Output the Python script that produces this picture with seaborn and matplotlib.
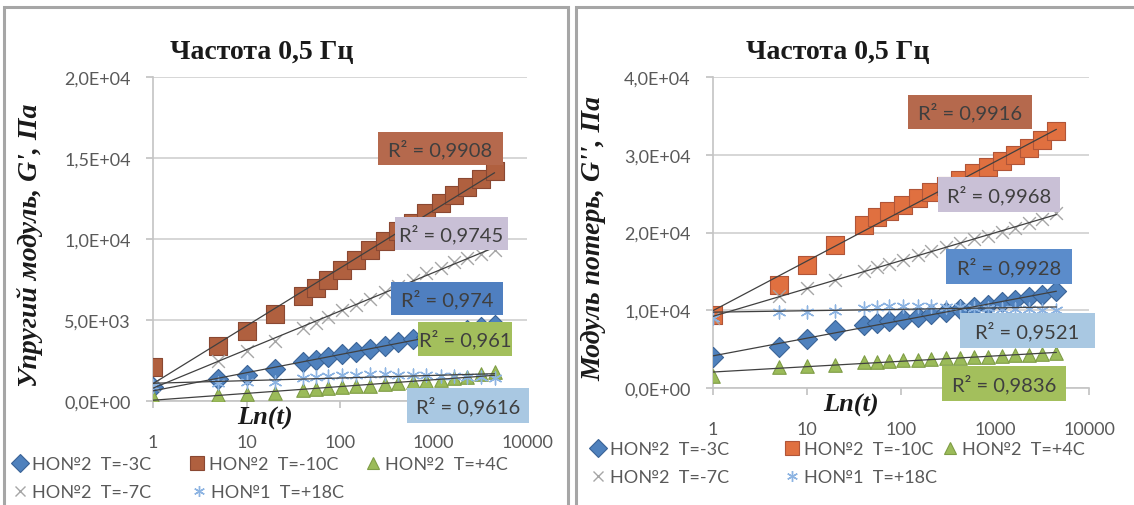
import numpy as np
import pandas as pd
import matplotlib
matplotlib.use('Agg')
import matplotlib.pyplot as plt
import seaborn as sns
from matplotlib.lines import Line2D
from matplotlib.patches import Rectangle
from matplotlib.ticker import FuncFormatter, FixedLocator, NullLocator

# ---------------- data ----------------
t = [1, 5, 10, 20, 40, 55, 75, 105, 150, 210, 300, 420, 600, 840, 1200, 1650, 2300, 3200, 4500]

# left panel: G', Pa
g1_m3 = [860, 1360, 1600, 1980, 2400, 2530, 2700, 2900, 3000, 3200, 3400, 3640, 3800, 3950, 4100, 4250, 4400, 4550, 4700]
g1_m10 = [2100, 3400, 4300, 5400, 6500, 7000, 7500, 8100, 8700, 9300, 9900, 10500, 11000, 11600, 12200, 12700, 13200, 13700, 14200]
g1_p4 = [250, 400, 450, 500, 700, 750, 800, 850, 900, 950, 1050, 1100, 1150, 1250, 1300, 1400, 1500, 1650, 1800]
g1_m7 = [1000, 2500, 3100, 3700, 4500, 4800, 5200, 5600, 5900, 6300, 6700, 7100, 7500, 7900, 8200, 8600, 8800, 9100, 9300]
g1_p18 = [900, 1100, 1150, 1150, 1450, 1500, 1550, 1600, 1600, 1650, 1650, 1600, 1600, 1600, 1550, 1550, 1500, 1500, 1450]

# right panel: G'', Pa
g2_m3 = [3960, 5250, 6320, 7400, 8040, 8390, 8560, 8820, 9120, 9550, 9770, 10200, 10400, 10700, 11060, 11260, 11700, 12000, 12430]
g2_m10 = [9330, 13200, 15780, 18360, 20940, 22000, 22800, 23600, 24400, 25200, 26000, 26800, 27600, 28400, 29200, 30000, 30900, 31900, 33000]
g2_p4 = [1590, 2670, 2800, 2970, 3310, 3400, 3480, 3560, 3640, 3720, 3800, 3880, 3960, 4040, 4120, 4200, 4300, 4390, 4450]
g2_m7 = [9000, 11800, 12900, 13900, 15000, 15500, 16000, 16500, 17100, 17600, 18100, 18600, 19100, 19600, 20100, 20600, 21200, 21800, 22500]
g2_p18 = [9000, 9800, 9800, 9900, 10300, 10400, 10500, 10500, 10500, 10500, 10400, 10400, 10300, 10300, 10200, 10200, 10100, 10000, 10000]

series_labels = ['НО№2  T=-3C', 'НО№2  T=-10C', 'НО№2  T=+4C', 'НО№2  T=-7C', 'НО№1  T=+18C']
r2_left = ['R² = 0,974', 'R² = 0,9908', 'R² = 0,961', 'R² = 0,9745', 'R² = 0,9616']
r2_right = ['R² = 0,9928', 'R² = 0,9916', 'R² = 0,9836', 'R² = 0,9968', 'R² = 0,9521']
xticks = [1, 10, 100, 1000, 10000]
yticks_left = [0, 5000, 10000, 15000, 20000]
yticks_right = [0, 10000, 20000, 30000, 40000]
title = 'Частота 0,5 Гц'
ylabel_left = "Упругий модуль, G', Па"
ylabel_right = "Модуль потерь, G'', Па"
xlabel = 'Ln(t)'

# ---------------- style ----------------
sns.set_theme(style='white')
plt.rcParams['font.family'] = ['Lato', 'DejaVu Sans']
SERIF = ['Liberation Serif', 'DejaVu Serif']

W, H = 1134, 506
fig = plt.figure(figsize=(W / 100, H / 100), dpi=100)


def fx(px):
    return px / W


def fy(py):
    return 1 - py / H


def sci(v, pos):
    if v == 0:
        return '0,0E+00'
    e = int(np.floor(np.log10(abs(v)) + 1e-9))
    m = v / 10 ** e
    return f"{m:.1f}".replace('.', ',') + f"E+{e:02d}"


GRAY_TXT = '#595959'
AX_GRAY = '#C4C4C4'

styles_left = [
    dict(marker='D', color='#4F81BD', ec='#3A6396', s=105, lw=0.8),
    dict(marker='s', color='#B0603F', ec='#8A4832', s=160, lw=0.8),
    dict(marker='^', color='#9BBB59', ec='#7F9D46', s=95, lw=0.8),
    dict(marker='x', color='#A6A6A6', ec='#A6A6A6', s=85, lw=1.0),
    dict(marker=(6, 2, 0), color='#8DB4E2', ec='#8DB4E2', s=85, lw=1.0),
]
styles_right = [dict(d) for d in styles_left]
styles_right[1] = dict(marker='s', color='#E07040', ec='#B05538', s=150, lw=0.8)

# boxes: (x0, y0, x1, y1) in pixel coords, fill colour
boxes_left = [
    ((391, 283, 503, 316), '#4F7FC0'),
    ((378, 133, 503, 166), '#B5694D'),
    ((418, 323, 512, 357), '#A3BF5C'),
    ((395, 218, 508, 251), '#C9C0D6'),
    ((407, 389, 529, 424), '#A9C8E2'),
]
boxes_right = [
    ((946, 250, 1072, 285), '#5B8CCB'),
    ((908, 96, 1032, 130), '#B5694D'),
    ((942, 367, 1066, 402), '#A3BF5C'),
    ((938, 178, 1060, 213), '#C9C0D6'),
    ((960, 314, 1095, 349), '#A9C8E2'),
]

# legend entry marker centres (px) per series, order as series_labels
leg_left = [(20, 465), (197, 465), (373, 465), (20, 493), (199, 493)]
leg_right = [(598, 450), (792, 450), (950, 450), (598, 478), (792, 478)]


def make_panel(rect_px, data, styles, yticks, ylab, boxes, r2, title_x, ylab_x,
               xlab_xy, leg_pos):
    x0, y0, x1, y1 = rect_px
    ax = fig.add_axes([fx(x0), fy(y1), fx(x1) - fx(x0), (y1 - y0) / H])
    ax.set_facecolor('none')
    tarr = np.array(t, dtype=float)
    for vals, st, lab in zip(data, styles, series_labels):
        v = np.array(vals, dtype=float)
        df = pd.DataFrame({'t': tarr, 'v': v})
        sns.scatterplot(data=df, x='t', y='v', ax=ax, marker=st['marker'],
                        color=st['color'], edgecolor=st['ec'], s=st['s'],
                        linewidth=st['lw'], zorder=3, legend=False)
        # logarithmic trend line (least squares on ln t)
        k, b = np.polyfit(np.log(tarr), v, 1)
        xe = np.array([tarr[0], tarr[-1]])
        ax.plot(xe, k * np.log(xe) + b, color='#404040', lw=0.9, zorder=4)
    ax.set_xscale('log')
    ax.set_xlim(1, 10000)
    ax.set_ylim(yticks[0], yticks[-1])
    ax.xaxis.set_major_locator(FixedLocator(xticks))
    ax.xaxis.set_minor_locator(NullLocator())
    ax.set_xticklabels([str(x) for x in xticks])
    ax.yaxis.set_major_locator(FixedLocator(yticks))
    ax.yaxis.set_major_formatter(FuncFormatter(sci))
    ax.grid(axis='y', color='#D0D0D0', lw=1.2)
    ax.grid(axis='x', visible=False)
    for sp in ['top', 'right']:
        ax.spines[sp].set_visible(False)
    for sp in ['left', 'bottom']:
        ax.spines[sp].set_color(AX_GRAY)
        ax.spines[sp].set_linewidth(1.2)
    ax.tick_params(axis='x', direction='out', length=5, color=AX_GRAY,
                   labelcolor=GRAY_TXT, labelsize=13, pad=19, bottom=True)
    ax.tick_params(axis='y', direction='out', length=5, color=AX_GRAY,
                   labelcolor=GRAY_TXT, labelsize=13, pad=11, left=True)
    for lbl in ax.get_xticklabels() + ax.get_yticklabels():
        lbl.set_family(['Lato', 'DejaVu Sans'])
    ax.set_xlabel('')
    ax.set_ylabel('')

    fig.text(fx(title_x), fy(52), title, ha='center', va='center',
             family=SERIF, fontweight='bold', fontsize=20, color='#1a1a1a')
    fig.text(fx(ylab_x), fy((y0 + y1) / 2 + 5), ylab, ha='center', va='center',
             rotation=90, family=SERIF, fontweight='bold', style='italic',
             fontsize=20, color='#1a1a1a')
    fig.text(fx(xlab_xy[0]), fy(xlab_xy[1]), xlabel, ha='center', va='center',
             family=SERIF, fontweight='bold', style='italic', fontsize=19,
             color='#1a1a1a')

    for (bx0, by0, bx1, by1), col in boxes:
        fig.add_artist(Rectangle((fx(bx0), fy(by1)), fx(bx1) - fx(bx0),
                                 (by1 - by0) / H, transform=fig.transFigure,
                                 facecolor=col, edgecolor='none', zorder=10))
    for ((bx0, by0, bx1, by1), col), txt in zip(boxes, r2):
        fig.text(fx((bx0 + bx1) / 2), fy((by0 + by1) / 2), txt, ha='center',
                 va='center', fontsize=14.5, color='#3F3F3F', zorder=11)

    for st, lab, (lx, ly) in zip(styles, series_labels, leg_pos):
        h = Line2D([], [], linestyle='none', marker=st['marker'],
                   markerfacecolor=st['color'], markeredgecolor=st['ec'],
                   markersize=np.sqrt(st['s']) * 0.85,
                   markeredgewidth=st['lw'], color=st['color'])
        leg = fig.legend([h], [lab], loc='center left',
                         bbox_to_anchor=(fx(lx - 9), fy(ly)),
                         bbox_transform=fig.transFigure, frameon=False,
                         fontsize=13, handletextpad=0.15, handlelength=1.0,
                         borderpad=0, borderaxespad=0, labelcolor=GRAY_TXT)
    return ax


make_panel((153, 78, 527, 402), [g1_m3, g1_m10, g1_p4, g1_m7, g1_p18],
           styles_left, yticks_left, ylabel_left, boxes_left, r2_left,
           title_x=262, ylab_x=30, xlab_xy=(265, 418), leg_pos=leg_left)
make_panel((713, 78, 1089, 389), [g2_m3, g2_m10, g2_p4, g2_m7, g2_p18],
           styles_right, yticks_right, ylabel_right, boxes_right, r2_right,
           title_x=838, ylab_x=594, xlab_xy=(851, 405), leg_pos=leg_right)

# panel frames
fig.add_artist(Rectangle((fx(4), fy(516)), fx(568) - fx(4), (516 - 8) / H,
                         transform=fig.transFigure, fill=False,
                         edgecolor='#A6A6A6', lw=2.2, zorder=0))
fig.add_artist(Rectangle((fx(576), fy(516)), fx(1140) - fx(576), (516 - 8) / H,
                         transform=fig.transFigure, fill=False,
                         edgecolor='#A6A6A6', lw=2.2, zorder=0))

fig.savefig('out.png', dpi=100)
